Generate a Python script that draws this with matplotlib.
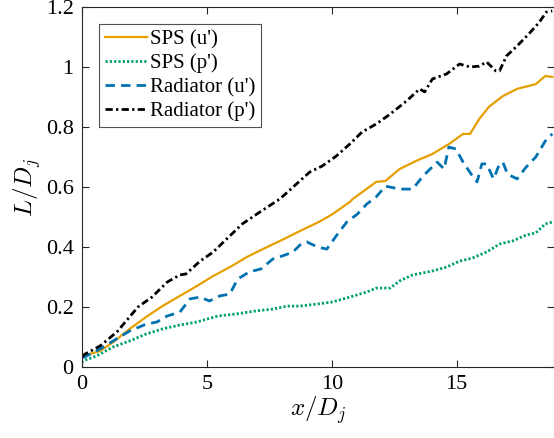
import matplotlib.pyplot as plt
import numpy as np

plt.rcParams['font.family'] = ['Liberation Serif', 'DejaVu Serif']
plt.rcParams['mathtext.fontset'] = 'cm'

# SPS (u')
x_sps_u = [0.0, 0.03, 0.72, 1.25, 1.91, 2.57, 3.22, 3.92, 4.60, 5.25, 5.92, 6.61, 7.24, 7.92, 8.24,
           8.72, 9.52, 10.04, 10.72, 10.84, 11.78, 12.15, 12.72, 13.38, 14.03, 14.69, 15.26, 15.54,
           15.91, 16.29, 16.85, 17.42, 17.89, 18.17, 18.55, 18.83]
y_sps_u = [0.03, 0.037, 0.053, 0.083, 0.127, 0.167, 0.203, 0.237, 0.27, 0.303, 0.333, 0.367, 0.393,
           0.42, 0.433, 0.453, 0.485, 0.51, 0.55, 0.56, 0.617, 0.62, 0.66, 0.687, 0.71, 0.743,
           0.777, 0.777, 0.827, 0.867, 0.903, 0.927, 0.937, 0.943, 0.97, 0.967]

# SPS (p')
x_sps_p = [0.0, 0.03, 0.59, 1.25, 1.91, 2.57, 3.22, 3.92, 4.60, 5.44, 6.19, 6.98, 7.64, 8.21, 8.72,
           9.43, 10.04, 10.72, 11.40, 11.78, 12.34, 12.72, 13.24, 14.03, 14.60, 15.12, 15.63,
           16.20, 16.72, 17.23, 17.79, 18.17, 18.55, 18.83]
y_sps_p = [0.015, 0.02, 0.037, 0.067, 0.087, 0.11, 0.127, 0.14, 0.15, 0.17, 0.177, 0.187, 0.193,
           0.203, 0.203, 0.21, 0.217, 0.233, 0.25, 0.263, 0.263, 0.287, 0.307, 0.32, 0.333,
           0.353, 0.363, 0.383, 0.41, 0.42, 0.44, 0.447, 0.477, 0.483]

# Radiator (u')
x_rad_u = [0.0, 0.19, 0.72, 1.25, 1.91, 2.57, 3.00, 3.41, 3.92, 4.32, 4.73, 5.10, 5.52, 5.92, 6.23,
           6.70, 7.17, 7.64, 8.02, 8.44, 8.77, 9.00, 9.43, 9.80, 10.18, 10.60, 11.03, 11.40, 11.78,
           12.15, 12.72, 13.24, 13.66, 14.22, 14.50, 14.69, 14.97, 15.26, 15.63, 15.82, 16.01,
           16.20, 16.48, 16.67, 16.85, 17.04, 17.42, 17.79, 18.17, 18.55, 18.83]
y_rad_u = [0.03, 0.037, 0.06, 0.087, 0.12, 0.143, 0.15, 0.17, 0.183, 0.227, 0.233, 0.22, 0.237,
           0.243, 0.293, 0.317, 0.327, 0.36, 0.37, 0.383, 0.41, 0.417, 0.40, 0.393, 0.437, 0.483,
           0.51, 0.543, 0.567, 0.603, 0.593, 0.593, 0.637, 0.683, 0.66, 0.733, 0.727, 0.683,
           0.637, 0.617, 0.677, 0.677, 0.627, 0.667, 0.683, 0.643, 0.627, 0.667, 0.70, 0.753,
           0.777]

# Radiator (p')
x_rad_p = [0.0, 0.12, 0.72, 1.40, 2.24, 2.80, 3.41, 3.92, 4.16, 4.73, 5.25, 5.92, 6.42, 7.13, 7.92,
           8.72, 9.12, 9.62, 10.18, 10.72, 11.21, 11.78, 12.34, 13.00, 13.52, 13.72, 14.03, 14.60,
           15.12, 15.54, 15.91, 16.20, 16.57, 16.72, 17.00, 17.42, 17.89, 18.32, 18.59, 18.83]
y_rad_p = [0.035, 0.043, 0.07, 0.117, 0.2, 0.233, 0.283, 0.307, 0.31, 0.353, 0.383, 0.437, 0.477,
           0.517, 0.56, 0.62, 0.65, 0.67, 0.703, 0.743, 0.783, 0.81, 0.843, 0.887, 0.927, 0.917,
           0.96, 0.977, 1.01, 1.0, 1.003, 1.017, 0.987, 0.987, 1.037, 1.07, 1.11, 1.15, 1.183,
           1.187]

fig = plt.figure(figsize=(5.54, 4.38), dpi=100)
ax = fig.add_axes([82 / 554, 71 / 438, 471.5 / 554, 360 / 438])

ax.plot(x_sps_u, y_sps_u, '-', color='#E69F00', lw=1.6, label="SPS (u')")
ax.plot(x_sps_p, y_sps_p, color='#009E73', lw=2.0, dashes=(0.8, 0.75), label="SPS (p')")
ax.plot(x_rad_u, y_rad_u, color='#0072B2', lw=2.0, dashes=(3.4, 2.2), label="Radiator (u')")
ax.plot(x_rad_p, y_rad_p, color='black', lw=2.0, dashes=(2.6, 1.2, 0.8, 1.2), label="Radiator (p')")

ax.set_xlim(0, 18.88)
ax.set_ylim(0, 1.2)
ax.set_xticks([0, 5, 10, 15])
ax.set_yticks([0, 0.2, 0.4, 0.6, 0.8, 1.0, 1.2])
ax.set_yticklabels(['0', '0.2', '0.4', '0.6', '0.8', '1', '1.2'])
ax.tick_params(direction='in', top=True, right=True, labelsize=16, length=5,
               color='#262626', width=0.8, pad=6)
for s in ax.spines.values():
    s.set_color('#262626')
    s.set_linewidth(0.8)

ax.set_xlabel(r'$x/D_j$', fontsize=18, labelpad=0)
ax.set_ylabel(r'$L/D_j$', fontsize=18, labelpad=2)

leg = ax.legend(loc='upper left', fontsize=15, frameon=True, fancybox=False,
                edgecolor='#262626', handlelength=2.0, handletextpad=0.15,
                borderaxespad=0.8, borderpad=0.3, labelspacing=0.2)
leg.get_frame().set_linewidth(0.8)

fig.savefig('out.png', dpi=100)
